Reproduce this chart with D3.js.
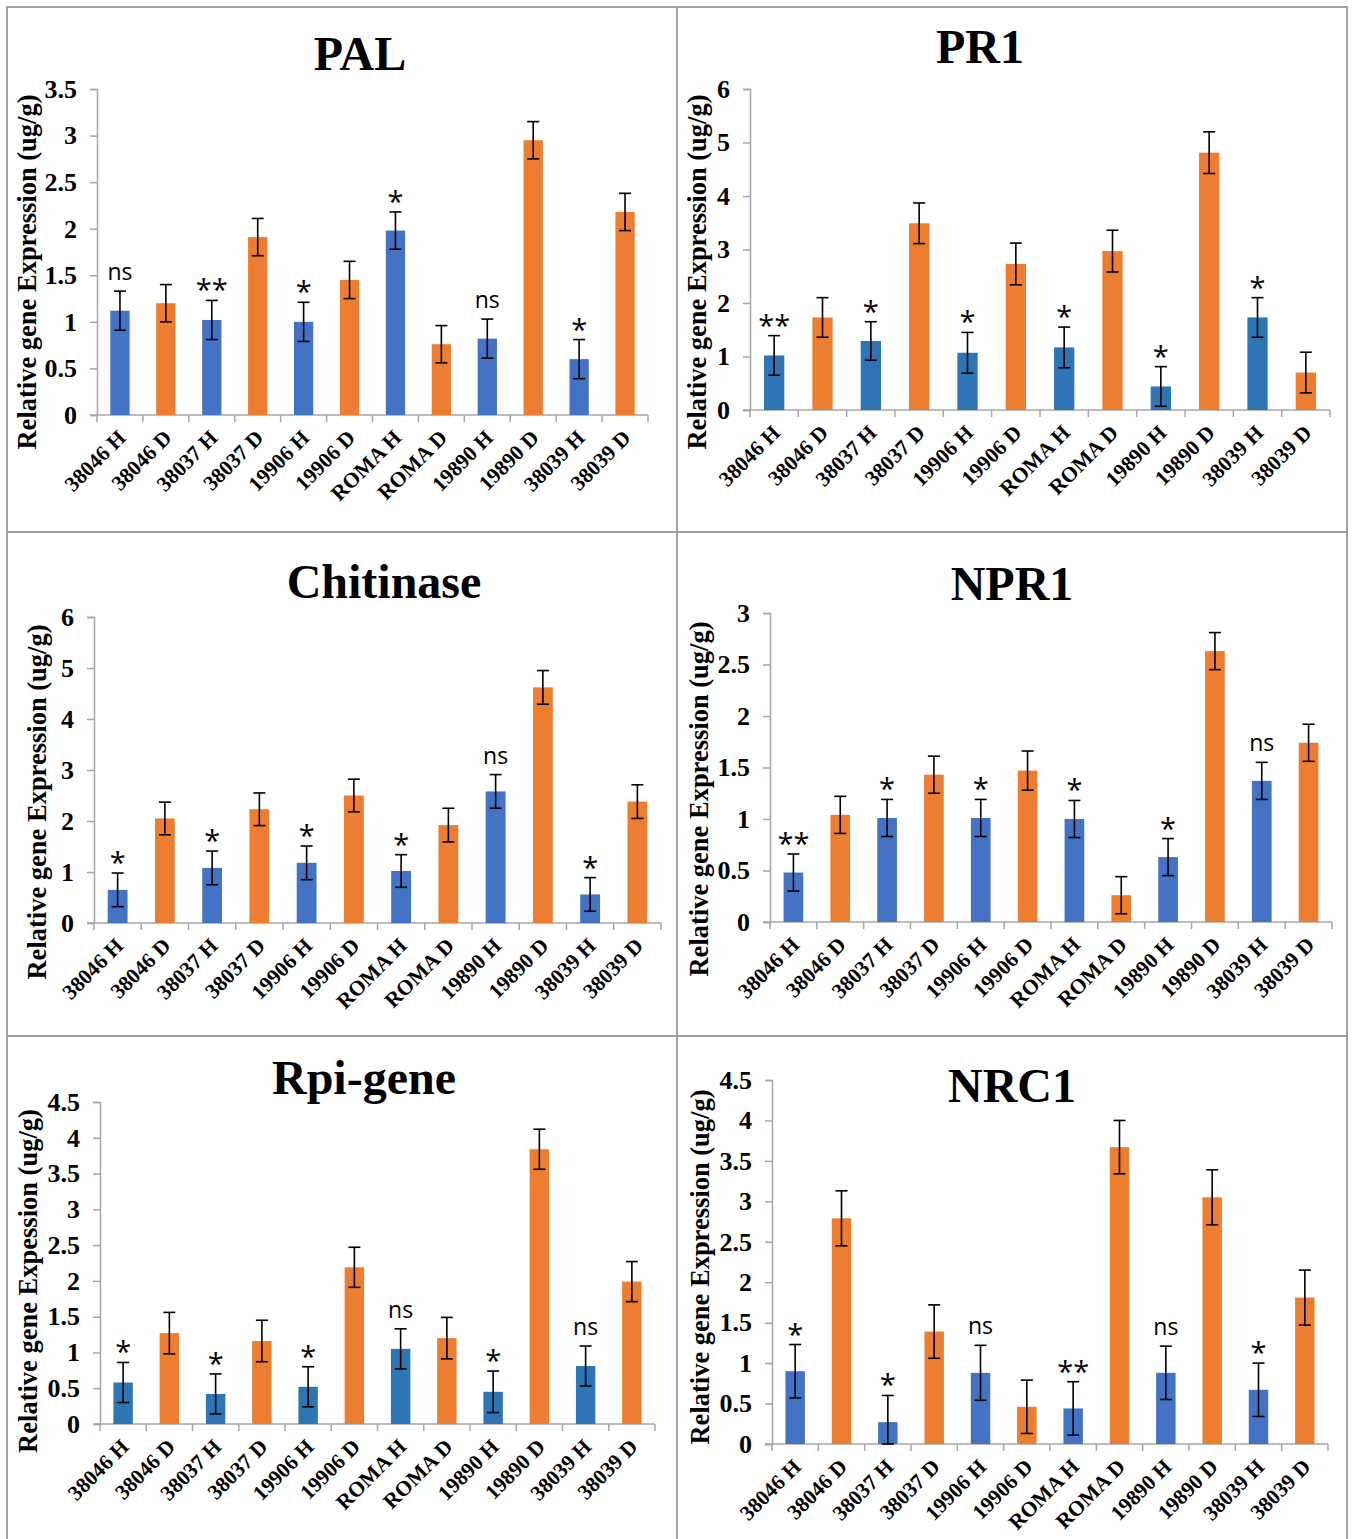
<!DOCTYPE html>
<html>
<head>
<meta charset="utf-8">
<script src="https://cdn.jsdelivr.net/npm/d3@7"></script>
<style>
  html, body { margin: 0; padding: 0; background: #fff; }
  svg { display: block; }
</style>
</head>
<body>
<script>
// ---------- DATA ----------
const categories = ["38046 H","38046 D","38037 H","38037 D","19906 H","19906 D","ROMA H","ROMA D","19890 H","19890 D","38039 H","38039 D"];

const palValues = [1.12,1.20,1.02,1.91,1.00,1.45,1.98,0.76,0.82,2.95,0.60,2.18];
const palErrors = [0.21,0.20,0.21,0.20,0.21,0.20,0.20,0.20,0.21,0.20,0.21,0.20];
const palMarks  = ["ns","","**","","*","","*","","ns","","*",""];
const palTicks  = ["0","0.5","1","1.5","2","2.5","3","3.5"];

const pr1Values = [1.02,1.73,1.29,3.49,1.07,2.73,1.17,2.97,0.44,4.81,1.73,0.70];
const pr1Errors = [0.37,0.37,0.36,0.38,0.38,0.39,0.38,0.39,0.37,0.39,0.37,0.38];
const pr1Marks  = ["**","","*","","*","","*","","*","","*",""];
const pr1Ticks  = ["0","1","2","3","4","5","6"];

const chiValues = [0.65,2.05,1.08,2.23,1.18,2.50,1.02,1.92,2.58,4.62,0.56,2.38];
const chiErrors = [0.33,0.32,0.33,0.32,0.33,0.32,0.32,0.33,0.33,0.33,0.33,0.33];
const chiMarks  = ["*","","*","","*","","*","","ns","","*",""];
const chiTicks  = ["0","1","2","3","4","5","6"];

const npr1Values = [0.48,1.04,1.01,1.43,1.01,1.47,1.00,0.26,0.63,2.63,1.37,1.74];
const npr1Errors = [0.18,0.18,0.18,0.18,0.18,0.19,0.18,0.18,0.18,0.18,0.18,0.18];
const npr1Marks  = ["**","","*","","*","","*","","*","","ns",""];
const npr1Ticks  = ["0","0.5","1","1.5","2","2.5","3"];

const rpiValues = [0.58,1.27,0.42,1.16,0.52,2.19,1.05,1.20,0.45,3.84,0.81,1.99];
const rpiErrors = [0.28,0.29,0.28,0.29,0.28,0.28,0.28,0.29,0.29,0.28,0.28,0.28];
const rpiMarks  = ["*","","*","","*","","ns","","*","","ns",""];
const rpiTicks  = ["0","0.5","1","1.5","2","2.5","3","3.5","4","4.5"];

const nrc1Values = [0.90,2.79,0.27,1.39,0.88,0.46,0.44,3.67,0.88,3.05,0.67,1.81];
const nrc1Errors = [0.33,0.34,0.33,0.33,0.34,0.33,0.33,0.33,0.33,0.34,0.33,0.34];
const nrc1Marks  = ["*","","*","","ns","","**","","ns","","*",""];
const nrc1Ticks  = ["0","0.5","1","1.5","2","2.5","3","3.5","4","4.5"];

// ---------- LAYOUT / STYLE ----------
const W = 1355, H = 1539;
const ORANGE = "#ED7D31";
const BLUE_A = "#4472C4";
const BLUE_B = "#2E75B6";
const AXIS = "#A6A6A6";
const SERIF = "'Liberation Serif','Times New Roman',serif";
const SANS = "'Open Sans',Lato,'Liberation Sans',sans-serif";

const panels = [
  {title:"PAL", values:palValues, errors:palErrors, marks:palMarks, ticks:palTicks, blue:BLUE_A,
   left:97, right:648, top:89, bottom:415, titleX:360, titleY:70, labX:27, labY:272,
   ylabel:"Relative gene Expression (ug/g)"},
  {title:"PR1", values:pr1Values, errors:pr1Errors, marks:pr1Marks, ticks:pr1Ticks, blue:BLUE_B,
   left:750, right:1330, top:89, bottom:410, titleX:980, titleY:63, labX:697, labY:272,
   ylabel:"Relative gene Expression (ug/g)"},
  {title:"Chitinase", values:chiValues, errors:chiErrors, marks:chiMarks, ticks:chiTicks, blue:BLUE_A,
   left:94, right:661, top:617, bottom:923, titleX:384, titleY:598, labX:37, labY:802,
   ylabel:"Relative gene Expression (ug/g)"},
  {title:"NPR1", values:npr1Values, errors:npr1Errors, marks:npr1Marks, ticks:npr1Ticks, blue:BLUE_A,
   left:770, right:1332, top:613, bottom:922, titleX:1012, titleY:600, labX:699, labY:799,
   ylabel:"Relative gene Expression (ug/g)"},
  {title:"Rpi-gene", values:rpiValues, errors:rpiErrors, marks:rpiMarks, ticks:rpiTicks, blue:BLUE_B,
   left:100, right:655, top:1102, bottom:1424, titleX:364, titleY:1094, labX:28, labY:1281,
   ylabel:"Relative gene Expession (ug/g)"},
  {title:"NRC1", values:nrc1Values, errors:nrc1Errors, marks:nrc1Marks, ticks:nrc1Ticks, blue:BLUE_A,
   left:772, right:1328, top:1080, bottom:1444, titleX:1012, titleY:1102, labX:700, labY:1267,
   ylabel:"Relative gene Expression (ug/g)"}
];

const svg = d3.select("body").append("svg").attr("width", W).attr("height", H);
svg.append("rect").attr("width", W).attr("height", H).attr("fill", "#fff");

// panel frames
const frame = svg.append("g").attr("stroke", "#A0A0A0").attr("stroke-width", 2).attr("fill", "none");
frame.append("rect").attr("x", 7).attr("y", 7).attr("width", 1340).attr("height", 1540);
frame.append("line").attr("x1", 677).attr("x2", 677).attr("y1", 7).attr("y2", 1539);
frame.append("line").attr("x1", 7).attr("x2", 1347).attr("y1", 532).attr("y2", 532);
frame.append("line").attr("x1", 7).attr("x2", 1347).attr("y1", 1036).attr("y2", 1036);

panels.forEach(p => {
  const g = svg.append("g");
  const yMax = +p.ticks[p.ticks.length - 1];
  const x = d3.scaleBand().domain(categories).range([p.left, p.right]).padding(0);
  const y = d3.scaleLinear().domain([0, yMax]).range([p.bottom, p.top]);
  const bw = x.bandwidth() * 0.42;

  // title
  g.append("text").attr("x", p.titleX).attr("y", p.titleY)
    .attr("text-anchor", "middle").attr("font-family", SERIF).attr("font-weight", "bold")
    .attr("font-size", 48).attr("fill", "#000").text(p.title);

  // y axis
  const yAxis = d3.axisLeft(y).tickValues(p.ticks.map(Number)).tickFormat((d, i) => p.ticks[i])
    .tickSize(7).tickPadding(13);
  const ya = g.append("g").attr("transform", `translate(${p.left},0)`).call(yAxis);
  ya.select(".domain").attr("stroke", AXIS).attr("stroke-width", 1.5);
  ya.selectAll(".tick line").attr("stroke", AXIS).attr("stroke-width", 1.5);
  ya.selectAll(".tick text").attr("font-family", SERIF).attr("font-weight", "bold")
    .attr("font-size", 26).attr("fill", "#000");

  // x axis line + boundary ticks
  const xa = g.append("g");
  xa.append("line").attr("x1", p.left - 7).attr("x2", p.right).attr("y1", p.bottom).attr("y2", p.bottom)
    .attr("stroke", AXIS).attr("stroke-width", 1.5);
  const bounds = categories.map(c => x(c)).concat([x(categories[categories.length - 1]) + x.bandwidth()]);
  xa.selectAll("line.tk").data(bounds).join("line").attr("class", "tk")
    .attr("x1", d => d).attr("x2", d => d).attr("y1", p.bottom).attr("y2", p.bottom + 7)
    .attr("stroke", AXIS).attr("stroke-width", 1.5);

  // category labels
  g.selectAll("text.cat").data(categories).join("text").attr("class", "cat")
    .attr("transform", d => `translate(${x(d) + x.bandwidth() / 2 - 3},${p.bottom + 14}) rotate(-45)`)
    .attr("text-anchor", "end").attr("dy", "0.66em")
    .attr("font-family", SERIF).attr("font-weight", "bold").attr("font-size", 21.5).attr("fill", "#000")
    .text(d => d);

  // bars
  g.selectAll("rect.bar").data(categories).join("rect").attr("class", "bar")
    .attr("x", d => x(d) + (x.bandwidth() - bw) / 2)
    .attr("width", bw)
    .attr("y", (d, i) => y(p.values[i]))
    .attr("height", (d, i) => p.bottom - y(p.values[i]))
    .attr("fill", (d, i) => i % 2 === 0 ? p.blue : ORANGE);

  // error bars
  const eb = g.append("g").attr("stroke", "#000").attr("stroke-width", 1.6);
  categories.forEach((c, i) => {
    const cx = x(c) + x.bandwidth() / 2;
    const hi = y(p.values[i] + p.errors[i]);
    const lo = y(Math.max(0, p.values[i] - p.errors[i]));
    eb.append("line").attr("x1", cx).attr("x2", cx).attr("y1", hi).attr("y2", lo);
    eb.append("line").attr("x1", cx - 6).attr("x2", cx + 6).attr("y1", hi).attr("y2", hi);
    eb.append("line").attr("x1", cx - 6).attr("x2", cx + 6).attr("y1", lo).attr("y2", lo);
  });

  // significance marks
  g.selectAll("text.mark").data(categories).join("text").attr("class", "mark")
    .attr("x", d => x(d) + x.bandwidth() / 2)
    .attr("y", (d, i) => y(p.values[i] + p.errors[i]) - (p.marks[i] === "ns" ? 11 : 0))
    .attr("text-anchor", "middle").attr("font-family", SANS)
    .attr("font-size", (d, i) => p.marks[i] === "ns" ? 23 : 29)
    .attr("fill", "#000")
    .text((d, i) => p.marks[i]);

  // y label
  g.append("text").attr("transform", `translate(${p.labX},${p.labY}) rotate(-90)`)
    .attr("text-anchor", "middle").attr("dy", "0.35em")
    .attr("font-family", SERIF).attr("font-weight", "bold").attr("font-size", 26.5).attr("fill", "#000")
    .text(p.ylabel);
});
</script>
</body>
</html>
